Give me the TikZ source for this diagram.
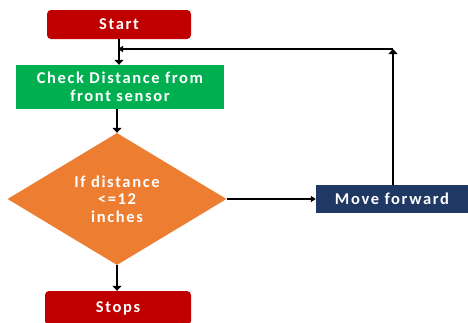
\documentclass[tikz,border=0pt]{standalone}
\usepackage{fontspec}
\setmainfont{Carlito}
\newfontfamily\boxfont{Carlito}[LetterSpace=10]
\usetikzlibrary{arrows.meta,positioning,shapes.geometric}
\definecolor{startred}{HTML}{C00000}
\definecolor{checkgreen}{HTML}{00B050}
\definecolor{ifcolor}{HTML}{ED7D31}
\definecolor{movenavy}{HTML}{1F3864}

\begin{document}
\begin{tikzpicture}[>={Triangle[length=5pt,width=6pt]},x=1pt,y=1pt,
  box/.style={inner sep=0pt,text=white,font=\boxfont\fontsize{16.5}{17.5}\selectfont\bfseries,align=center},
  flow/.style={->,line width=2.4pt,>={Triangle[length=5pt,width=9pt]}},
  back/.style={->,line width=1.5pt}]
\useasboundingbox (0,0) rectangle (468,-322);
\node[box,fill=startred,rounded corners=4pt,minimum width=144pt,minimum height=29pt] (start) at (119,-24.5) {Start};
\node[box,fill=checkgreen,minimum width=208pt,minimum height=44pt] (check) at (120,-87) {Check Distance from\\front sensor};
\node[box,diamond,fill=ifcolor,minimum width=219pt,minimum height=132pt] (if) at (117,-199) {If distance\\<=12\\inches};
\node[box,fill=movenavy,minimum width=152pt,minimum height=28pt] (move) at (392,-199) {Move forward};
\node[box,fill=startred,rounded corners=4pt,minimum width=146pt,minimum height=34pt] (stop) at (118,-308) {Stops};
\coordinate (corner) at (393,-49);
\coordinate (join) at (118,-49);
\draw[flow] (start.south) -- (start.south |- check.north);
\draw[flow] (check.south -| if.north) -- (if.north);
\draw[flow] (if.south) -- (if.south |- stop.north);
\draw[back] (if.east) -- (move.west);
\draw[flow] (move.north -| corner) -- (corner);
\draw[back] (corner) -- (join);
\end{tikzpicture}
\end{document}
